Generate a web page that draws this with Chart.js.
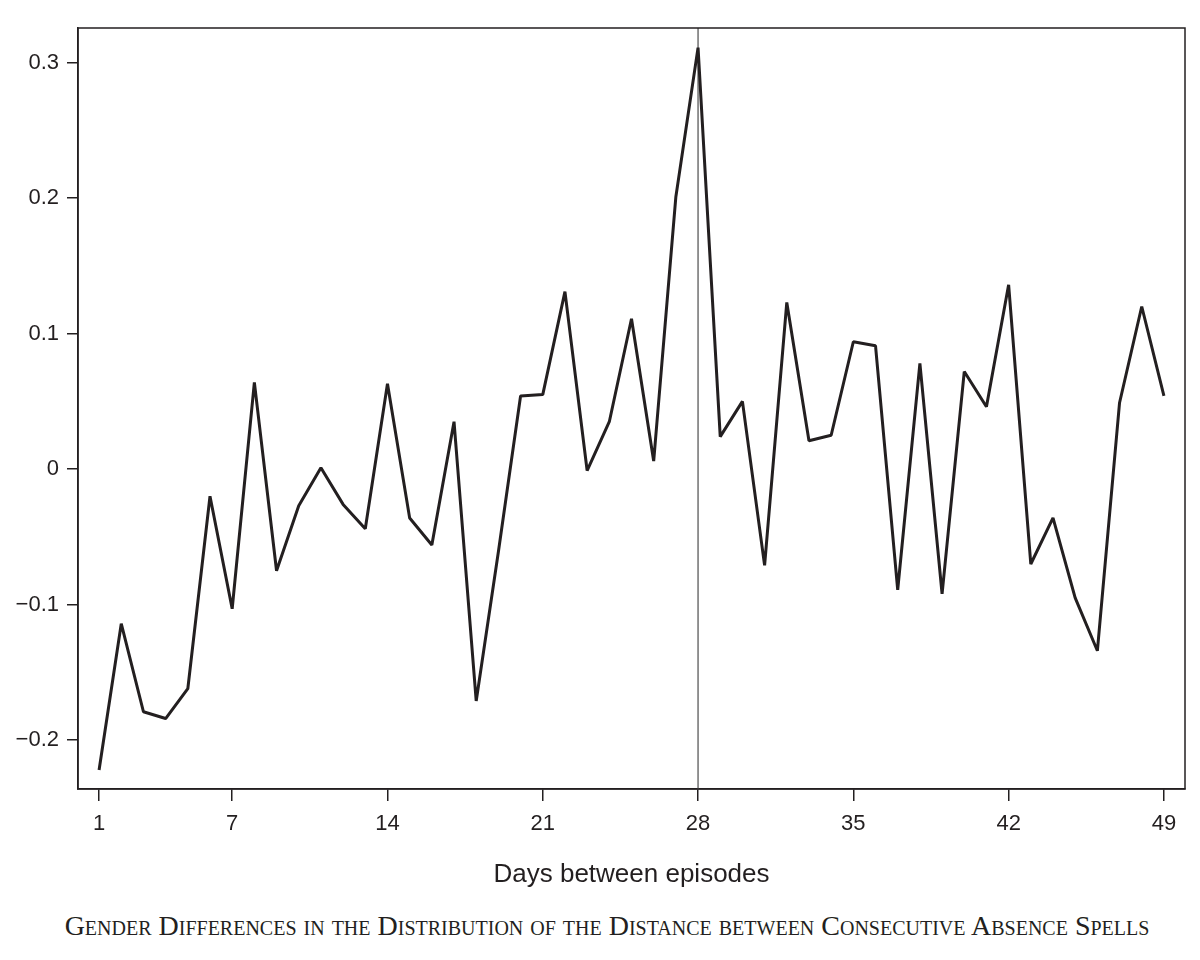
<!DOCTYPE html>
<html>
<head>
<meta charset="utf-8">
<script src="https://cdn.jsdelivr.net/npm/chart.js@4.4.1/dist/chart.umd.min.js"></script>
<style>
  body { margin: 0; background: #fff; }
  #wrap { position: relative; width: 1200px; height: 960px; }
  #chart { position: absolute; left: 0; top: 0; }
  #caption {
    position: absolute; left: 7px; top: 910px; width: 1200px;
    text-align: center; font-family: "Liberation Serif", serif;
    font-variant: small-caps; font-size: 28px; color: #231f20;
  }
</style>
</head>
<body>
<div id="wrap">
  <canvas id="chart" width="1200" height="900"></canvas>
  <div id="caption">Gender Differences in the Distribution of the Distance between Consecutive Absence Spells</div>
</div>
<script>
// days between two absence episodes
const days = [1, 2, 3, 4, 5, 6, 7, 8, 9, 10, 11, 12, 13, 14, 15, 16, 17, 18, 19, 20,
  21, 22, 23, 24, 25, 26, 27, 28, 29, 30, 31, 32, 33, 34, 35, 36, 37, 38, 39, 40,
  41, 42, 43, 44, 45, 46, 47, 48, 49]

// gender difference (women - men)
const genderDiff = [-0.222, -0.114, -0.179, -0.184, -0.162, -0.020, -0.103, 0.064, -0.075, -0.027,
  0.001, -0.026, -0.044, 0.063, -0.036, -0.056, 0.035, -0.171, -0.061, 0.054,
  0.055, 0.131, -0.001, 0.035, 0.111, 0.006, 0.201, 0.311, 0.024, 0.050,
  -0.071, 0.123, 0.021, 0.025, 0.094, 0.091, -0.089, 0.078, -0.092, 0.072,
  0.046, 0.136, -0.070, -0.036, -0.095, -0.134, 0.049, 0.120, 0.054]

const xTicks = [1, 7, 14, 21, 28, 35, 42, 49]
const yTicks = [-0.2, -0.1, 0, 0.1, 0.2, 0.3]
const markDay = 28

const ink = '#231f20'

// box round the plot and the grey line at 4 weeks
const framePlugin = {
  id: 'frame',
  beforeDatasetsDraw(chart) {
    const { ctx, chartArea: a, scales } = chart
    const px = scales.x.getPixelForValue(markDay)
    ctx.save()
    ctx.strokeStyle = '#707070'
    ctx.lineWidth = 1.5
    ctx.beginPath()
    ctx.moveTo(px, a.top)
    ctx.lineTo(px, a.bottom)
    ctx.stroke()
    ctx.restore()
  },
  afterDatasetsDraw(chart) {
    const { ctx, chartArea: a } = chart
    ctx.save()
    ctx.strokeStyle = ink
    ctx.lineWidth = 1.5
    ctx.strokeRect(a.left, a.top, a.right - a.left, a.bottom - a.top)
    ctx.restore()
  }
}

const points = days.map((d, i) => ({ x: d, y: genderDiff[i] }))

new Chart(document.getElementById('chart'), {
  type: 'line',
  data: {
    datasets: [{
      data: points,
      borderColor: ink,
      borderWidth: 3,
      borderJoinStyle: 'bevel',
      pointRadius: 0,
      tension: 0,
      fill: false
    }]
  },
  options: {
    responsive: false,
    devicePixelRatio: 1,
    animation: false,
    layout: { padding: { top: 28, right: 15, left: 0, bottom: 0 } },
    plugins: { legend: { display: false }, tooltip: { enabled: false } },
    scales: {
      x: {
        type: 'linear',
        min: 0.05,
        max: 49.95,
        afterBuildTicks: (s) => { s.ticks = xTicks.map(v => ({ value: v })) },
        afterFit: (s) => { s.height = 111 },
        grid: { drawOnChartArea: false, drawTicks: true, tickLength: 12, color: ink, lineWidth: 1.5 },
        border: { display: true, color: ink, width: 1.5 },
        ticks: { color: ink, font: { family: 'Liberation Sans', size: 22 }, padding: 10, maxRotation: 0, autoSkip: false },
        title: {
          display: true,
          text: 'Days between episodes',
          color: ink,
          font: { family: 'Liberation Sans', size: 26 },
          padding: { top: 4, bottom: 10 }
        }
      },
      y: {
        min: -0.236,
        max: 0.3255,
        afterBuildTicks: (s) => { s.ticks = yTicks.map(v => ({ value: v })) },
        afterFit: (s) => { s.width = 78 },
        grid: { drawOnChartArea: false, drawTicks: true, tickLength: 11, color: ink, lineWidth: 1.5 },
        border: { display: true, color: ink, width: 1.5 },
        ticks: {
          color: ink,
          font: { family: 'Liberation Sans', size: 22 },
          padding: 8,
          callback: (v) => v === 0 ? '0' : (v < 0 ? '\u2212' + Math.abs(v).toFixed(1) : v.toFixed(1))
        }
      }
    }
  },
  plugins: [framePlugin]
})
</script>
</body>
</html>
